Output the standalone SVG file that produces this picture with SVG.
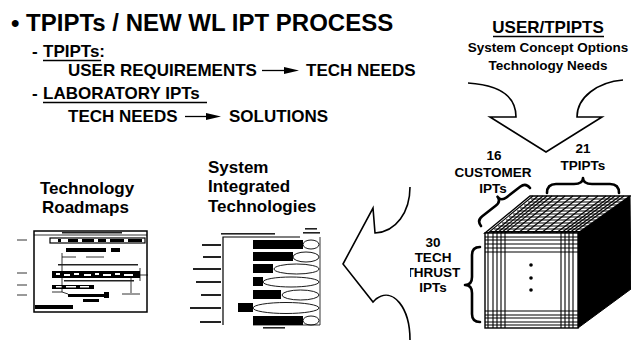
<svg xmlns="http://www.w3.org/2000/svg" width="631" height="342" viewBox="0 0 631 342">
  <defs>
    <style>
      text { font-family: "Liberation Sans", Arial, Helvetica, sans-serif; font-weight: bold; fill: #000; }
      .title { font-size: 24px; }
      .head { font-size: 17px; }
      .body { font-size: 17px; }
      .sub { font-size: 13.5px; }
      .cap { font-size: 17px; }
      .lbl { font-size: 13.5px; text-anchor: middle; }
      .ul { stroke: #000; stroke-width: 1.6; }
      .big { fill: #fff; stroke: #000; stroke-width: 1.6; stroke-linejoin: miter; }
      .brace { fill: none; stroke: #000; stroke-width: 2.6; stroke-linecap: round; stroke-linejoin: round; }
      .grid { stroke: #000; stroke-width: 1.1; }
      .thin { stroke: #000; stroke-width: 0.8; fill: none; }
      .bar { fill: #000; }
      .ell { fill: none; stroke: #000; stroke-width: 0.9; }
      .smudge { fill: #222; }
    </style>
  </defs>

  <!-- heading and bullet list -->
  <g id="title">
    <text class="title" x="11" y="31">• TPIPTs / NEW WL IPT PROCESS</text>
  </g>
  <g id="tpipts-item">
    <text class="head" x="32" y="57">-</text>
    <text class="head" x="43" y="57">TPIPTs:</text>
    <line class="ul" x1="43" y1="60.5" x2="101" y2="60.5"/>
    <text class="body" x="68" y="76">USER REQUIREMENTS</text>
    <text class="body" x="306" y="76">TECH NEEDS</text>
  </g>
  <g id="lab-item">
    <text class="head" x="32" y="99">-</text>
    <text class="head" x="43" y="99">LABORATORY IPTs</text>
    <line class="ul" x1="43" y1="102.5" x2="207" y2="102.5"/>
    <text class="body" x="68" y="122">TECH NEEDS</text>
    <text class="body" x="229" y="122">SOLUTIONS</text>
  </g>

  <!-- source of the inputs -->
  <g id="user-tpipts">
    <text class="head" x="548" y="33" text-anchor="middle">USER/TPIPTS</text>
    <line class="ul" x1="493" y1="36.5" x2="604" y2="36.5"/>
    <text class="sub" x="548" y="52" text-anchor="middle">System Concept Options</text>
    <text class="sub" x="548" y="70" text-anchor="middle">Technology Needs</text>
  </g>

  <!-- IPT cube -->
  <g id="ipt-cube">
    <polygon points="578,233 630,196 631,289 578,328" fill="#000" stroke="#000" stroke-width="1"/>
    <polygon points="485,233 578,233 630,196 530,196" fill="#fff" stroke="#000" stroke-width="1.4"/>
    <g class="grid">
      <line x1="531" y1="199" x2="626" y2="199"/>
      <line x1="528" y1="202" x2="622" y2="202"/>
      <line x1="524" y1="205" x2="618" y2="205"/>
      <line x1="520" y1="208" x2="613" y2="208"/>
      <line x1="517" y1="211" x2="609" y2="211"/>
      <line x1="513" y1="214" x2="605" y2="214"/>
      <line x1="509" y1="217" x2="601" y2="217"/>
      <line x1="506" y1="220" x2="596" y2="220"/>
      <line x1="502" y1="223" x2="592" y2="223"/>
      <line x1="498" y1="226" x2="588" y2="226"/>
      <line x1="494" y1="229" x2="584" y2="229"/>
      <line x1="490" y1="231.5" x2="581" y2="231.5"/>
      <line x1="488" y1="233" x2="533" y2="196"/>
      <line x1="493" y1="233" x2="538" y2="196"/>
      <line x1="497" y1="233" x2="543" y2="196"/>
      <line x1="501" y1="233" x2="547" y2="196"/>
      <line x1="505" y1="233" x2="552" y2="196"/>
      <line x1="511" y1="233" x2="558" y2="196"/>
      <line x1="518" y1="233" x2="565" y2="196"/>
      <line x1="525" y1="233" x2="573" y2="196"/>
      <line x1="533" y1="233" x2="581" y2="196"/>
      <line x1="541" y1="233" x2="589" y2="196"/>
      <line x1="549" y1="233" x2="598" y2="196"/>
      <line x1="556" y1="233" x2="606" y2="196"/>
      <line x1="561" y1="233" x2="611" y2="196"/>
      <line x1="565" y1="233" x2="615" y2="196"/>
      <line x1="569" y1="233" x2="620" y2="196"/>
      <line x1="573" y1="233" x2="624" y2="196"/>
    </g>
    <rect x="485" y="233" width="93" height="95" fill="#fff" stroke="#000" stroke-width="1.4"/>
    <g class="grid">
      <line x1="488" y1="233" x2="488" y2="328"/>
      <line x1="493" y1="233" x2="493" y2="328"/>
      <line x1="497" y1="233" x2="497" y2="328"/>
      <line x1="501" y1="233" x2="501" y2="328"/>
      <line x1="505" y1="233" x2="505" y2="328"/>
      <line x1="561" y1="233" x2="561" y2="328"/>
      <line x1="565" y1="233" x2="565" y2="328"/>
      <line x1="569" y1="233" x2="569" y2="328"/>
      <line x1="573" y1="233" x2="573" y2="328"/>
      <line x1="485" y1="237" x2="578" y2="237"/>
      <line x1="485" y1="240" x2="578" y2="240"/>
      <line x1="485" y1="244" x2="578" y2="244"/>
      <line x1="485" y1="248" x2="578" y2="248"/>
      <line x1="485" y1="252" x2="578" y2="252"/>
      <line x1="485" y1="311" x2="578" y2="311"/>
      <line x1="485" y1="315" x2="578" y2="315"/>
      <line x1="485" y1="318" x2="578" y2="318"/>
      <line x1="485" y1="322" x2="578" y2="322"/>
      <line x1="485" y1="325" x2="578" y2="325"/>
    </g>
    <circle cx="531" cy="265" r="1.8" fill="#000"/>
    <circle cx="531" cy="278" r="1.8" fill="#000"/>
    <circle cx="531" cy="290" r="1.8" fill="#000"/>
  </g>

  <!-- cube axis labels -->
  <g id="tpipt-axis">
    <text class="lbl" x="583" y="153">21</text>
    <text class="lbl" x="583" y="170">TPIPTs</text>
    <path class="brace" d="M547,193 Q547,184 556,184 L574,184 Q583,184 583,178 Q583,184 592,184 L610,184 Q619,184 619,193"/>
  </g>
  <g id="customer-axis">
    <text class="lbl" x="494" y="160">16</text>
    <text class="lbl" x="493" y="177">CUSTOMER</text>
    <text class="lbl" x="493" y="193">IPTs</text>
    <path class="brace" transform="translate(481,226) rotate(-37.8)" d="M0,0 Q0,-7 7,-7 L24,-7 Q31,-7 31,-13 Q31,-7 38,-7 L55,-7 Q62,-7 62,0"/>
  </g>
  <g id="thrust-axis">
    <text class="lbl" x="433" y="247">30</text>
    <text class="lbl" x="433" y="262">TECH</text>
    <text class="lbl" x="433" y="277">THRUST</text>
    <text class="lbl" x="433" y="292">IPTs</text>
    <path class="brace" d="M480,247 Q472,247 472,255 L472,277 Q472,285 465,285 Q472,285 472,293 L472,314 Q472,322 480,322"/>
  </g>

  <!-- roadmap thumbnail -->
  <g id="roadmaps">
    <text class="cap" x="40" y="194">Technology</text>
    <text class="cap" x="42" y="213">Roadmaps</text>
    <rect x="34" y="231" width="113" height="81" fill="#fff" stroke="#000" stroke-width="1.5"/>
    <line class="thin" x1="34" y1="235" x2="147" y2="235"/>
    <rect class="smudge" x="62" y="232" width="60" height="1.5"/>
    <rect x="50" y="238" width="95" height="5" fill="#fff" stroke="#000" stroke-width="1.2"/>
    <g class="bar">
      <rect x="58" y="239" width="3" height="3"/><rect x="68" y="239" width="10" height="3"/>
      <rect x="82" y="239" width="12" height="3"/><rect x="98" y="239" width="8" height="3"/>
      <rect x="110" y="239" width="14" height="3"/><rect x="128" y="239" width="14" height="3"/>
      <rect x="66" y="248" width="40" height="4"/><rect x="111" y="248" width="9" height="4"/>
      <rect x="52" y="271" width="88" height="7"/>
      <rect x="52" y="285" width="42" height="4"/>
      <rect x="68" y="294" width="36" height="3"/>
      <rect x="104" y="292" width="5" height="6"/>
      <rect x="83" y="299" width="16" height="3"/>
      <rect x="35" y="305" width="38" height="4"/>
    </g>
    <g fill="#fff">
      <rect x="56" y="273" width="4" height="2"/><rect x="64" y="274" width="6" height="2"/>
      <rect x="74" y="273" width="5" height="2"/><rect x="84" y="274" width="7" height="2"/>
      <rect x="95" y="273" width="4" height="2"/><rect x="103" y="274" width="8" height="2"/>
      <rect x="115" y="273" width="5" height="2"/><rect x="124" y="274" width="9" height="2"/>
      <rect x="56" y="286" width="6" height="1.5"/><rect x="66" y="286" width="10" height="1.5"/>
      <rect x="80" y="286" width="9" height="1.5"/>
    </g>
    <g class="thin">
      <polyline points="62,253 62,292 68,294"/>
      <line x1="62" y1="257" x2="76" y2="257"/>
      <line x1="86" y1="257" x2="104" y2="257"/>
      <line x1="140" y1="268" x2="140" y2="281"/>
      <line x1="140" y1="275" x2="148" y2="275"/>
      <polyline points="131,278 131,293"/>
      <line x1="122" y1="294" x2="140" y2="294"/>
      <line x1="52" y1="292" x2="62" y2="292"/>
      <line x1="17" y1="240" x2="27" y2="240"/>
      <line x1="17" y1="273" x2="27" y2="273"/>
      <line x1="17" y1="285" x2="27" y2="285"/>
      <line x1="17" y1="295" x2="27" y2="295"/>
    </g>
    <rect class="smudge" x="58" y="264" width="80" height="1.5"/>
    <rect class="smudge" x="64" y="280" width="70" height="1.5"/>
  </g>

  <!-- integrated technologies chart thumbnail -->
  <g id="integrated-tech">
    <text class="cap" x="208" y="173">System</text>
    <text class="cap" x="208" y="192">Integrated</text>
    <text class="cap" x="208" y="212">Technologies</text>
    <polyline points="223,325 223,237 300,237" fill="none" stroke="#000" stroke-width="1.2"/>
    <line class="thin" x1="253" y1="325" x2="320" y2="325"/>
    <line class="thin" x1="320" y1="237" x2="320" y2="325"/>
    <rect class="smudge" x="221" y="233" width="54" height="1.6"/>
    <rect class="smudge" x="305" y="228" width="12" height="1.6"/>
    <rect class="smudge" x="303" y="232" width="17" height="1.6"/>
    <rect class="smudge" x="263" y="327" width="22" height="1.6"/>
    <g class="smudge">
      <rect x="202" y="244" width="19" height="2"/>
      <rect x="203" y="256" width="18" height="2"/>
      <rect x="193" y="268" width="28" height="2"/>
      <rect x="196" y="281" width="25" height="2"/>
      <rect x="201" y="294" width="20" height="2"/>
      <rect x="190" y="307" width="31" height="2"/>
      <rect x="200" y="321" width="21" height="2"/>
    </g>
    <g class="bar">
      <rect x="253" y="240" width="50" height="9"/>
      <rect x="253" y="252" width="40" height="9"/>
      <rect x="253" y="264" width="20" height="9"/>
      <rect x="253" y="277" width="10" height="9"/>
      <rect x="253" y="290" width="28" height="9"/>
      <rect x="238" y="303" width="15" height="9"/>
      <rect x="253" y="316" width="50" height="9"/>
    </g>
    <g class="ell">
      <ellipse cx="311" cy="244.5" rx="8" ry="4.5"/>
      <ellipse cx="306" cy="257" rx="13" ry="5"/>
      <ellipse cx="296.5" cy="269" rx="22.5" ry="5"/>
      <ellipse cx="291" cy="282" rx="28" ry="5"/>
      <ellipse cx="300.5" cy="295" rx="18.5" ry="5"/>
      <ellipse cx="286" cy="308" rx="33" ry="5.5"/>
      <ellipse cx="311" cy="320.5" rx="8" ry="4.5"/>
    </g>
  </g>

  <!-- connectors: inline arrows and the two block arrows -->
  <g id="connectors">
    <line x1="262" y1="70.5" x2="288" y2="70.5" stroke="#000" stroke-width="1.3"/>
    <polygon points="284,67 299,70.5 284,74" fill="#000"/>
    <line x1="185" y1="116.5" x2="210" y2="116.5" stroke="#000" stroke-width="1.3"/>
    <polygon points="206,113 221,116.5 206,120" fill="#000"/>
    <path class="big" d="M468,83 C500,85 516,97 516,117 L490,117 L546,152 L602,117 L577,117 C577,97 598,82 623,80"/>
    <path class="big" d="M410,187 C410,212 396,232 375,233 L373,208 L343,264 L373,302 L376,299 C393,286 410,308 410,340"/>
  </g>
</svg>
